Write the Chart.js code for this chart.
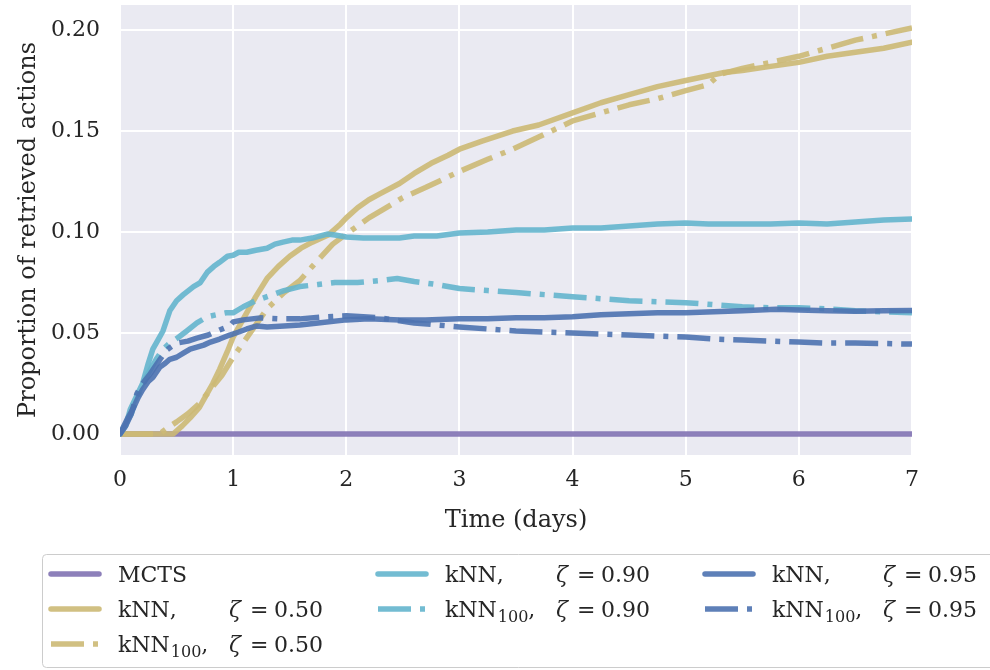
<!DOCTYPE html>
<html>
<head>
<meta charset="utf-8">
<script src="https://cdn.jsdelivr.net/npm/chart.js@4.4.0/dist/chart.umd.min.js"></script>
<style>
  body { margin: 0; background: #ffffff; }
  #wrap { width: 990px; height: 670px; }
</style>
</head>
<body>
<div id="wrap"><canvas id="myChart" width="990" height="670"></canvas></div>
<script>
// axis ticks
var xTicks = [0, 1, 2, 3, 4, 5, 6, 7];
var yTicks = [0, 0.05, 0.10, 0.15, 0.20];

// MCTS
var mctsX = [0, 7];
var mctsY = [0, 0];

// kNN, zeta = 0.50
var knn50X = [0, 0.47, 0.55, 0.62, 0.7, 0.75, 0.82, 0.88, 0.95, 1.0, 1.1, 1.2, 1.3, 1.4, 1.5, 1.6, 1.7, 1.84, 1.95, 2.0, 2.1, 2.2, 2.3, 2.47, 2.6, 2.75, 2.9, 3.0, 3.2, 3.47, 3.7, 4.0, 4.25, 4.5, 4.75, 5.0, 5.34, 5.5, 5.75, 6.0, 6.25, 6.5, 6.75, 7.0];
var knn50Y = [0, 0, 0.004, 0.008, 0.013, 0.018, 0.025, 0.032, 0.041, 0.048, 0.058, 0.068, 0.077, 0.083, 0.088, 0.092, 0.095, 0.0985, 0.104, 0.107, 0.112, 0.116, 0.119, 0.124, 0.129, 0.134, 0.138, 0.141, 0.145, 0.150, 0.153, 0.159, 0.164, 0.168, 0.172, 0.175, 0.179, 0.180, 0.182, 0.184, 0.187, 0.189, 0.191, 0.194];

// kNN100, zeta = 0.50
var knn100_50X = [0, 0.35, 0.42, 0.5, 0.6, 0.7, 0.8, 0.9, 1.0, 1.1, 1.2, 1.3, 1.45, 1.59, 1.7, 1.88, 2.0, 2.2, 2.35, 2.5, 2.7, 3.0, 3.25, 3.47, 3.7, 4.0, 4.25, 4.5, 4.75, 5.0, 5.2, 5.3, 5.5, 5.75, 6.0, 6.25, 6.5, 6.75, 7.0];
var knn100_50Y = [0, 0, 0.003, 0.006, 0.010, 0.015, 0.022, 0.029, 0.038, 0.046, 0.054, 0.062, 0.070, 0.076, 0.083, 0.094, 0.099, 0.107, 0.112, 0.117, 0.122, 0.130, 0.136, 0.141, 0.147, 0.155, 0.159, 0.163, 0.166, 0.170, 0.173, 0.178, 0.181, 0.184, 0.187, 0.191, 0.195, 0.198, 0.201];

// kNN, zeta = 0.90
var knn90X = [0, 0.05, 0.09, 0.14, 0.2, 0.25, 0.29, 0.33, 0.38, 0.44, 0.5, 0.56, 0.65, 0.71, 0.77, 0.83, 0.88, 0.95, 1.0, 1.05, 1.12, 1.2, 1.3, 1.37, 1.44, 1.52, 1.59, 1.7, 1.83, 1.9, 2.0, 2.15, 2.3, 2.47, 2.6, 2.8, 3.0, 3.25, 3.5, 3.75, 4.0, 4.25, 4.5, 4.75, 5.0, 5.2, 5.5, 5.75, 6.0, 6.25, 6.5, 6.75, 7.0];
var knn90Y = [0, 0.004, 0.012, 0.018, 0.025, 0.035, 0.042, 0.046, 0.051, 0.061, 0.066, 0.069, 0.073, 0.075, 0.080, 0.083, 0.085, 0.088, 0.0885, 0.090, 0.090, 0.091, 0.092, 0.094, 0.095, 0.096, 0.096, 0.097, 0.099, 0.0985, 0.0975, 0.097, 0.097, 0.097, 0.098, 0.098, 0.0995, 0.100, 0.101, 0.101, 0.102, 0.102, 0.103, 0.104, 0.1045, 0.104, 0.104, 0.104, 0.1045, 0.104, 0.105, 0.106, 0.1065];

// kNN100, zeta = 0.90
var knn100_90X = [0, 0.05, 0.1, 0.15, 0.2, 0.25, 0.32, 0.38, 0.44, 0.52, 0.59, 0.68, 0.77, 0.85, 0.94, 1.0, 1.09, 1.2, 1.3, 1.45, 1.59, 1.75, 1.9, 2.1, 2.3, 2.45, 2.6, 2.8, 3.0, 3.25, 3.5, 3.75, 4.0, 4.25, 4.5, 4.75, 5.0, 5.25, 5.5, 5.75, 6.0, 6.25, 6.5, 6.75, 7.0];
var knn100_90Y = [0, 0.005, 0.010, 0.018, 0.024, 0.030, 0.037, 0.042, 0.045, 0.048, 0.051, 0.055, 0.058, 0.059, 0.060, 0.060, 0.063, 0.066, 0.068, 0.071, 0.073, 0.074, 0.075, 0.075, 0.076, 0.077, 0.0755, 0.074, 0.072, 0.071, 0.070, 0.069, 0.068, 0.067, 0.066, 0.0655, 0.065, 0.064, 0.063, 0.0625, 0.0625, 0.062, 0.061, 0.0605, 0.060];

// kNN, zeta = 0.95
var knn95X = [0, 0.03, 0.07, 0.12, 0.16, 0.2, 0.25, 0.29, 0.35, 0.4, 0.44, 0.5, 0.56, 0.62, 0.68, 0.74, 0.8, 0.88, 0.97, 1.05, 1.12, 1.21, 1.3, 1.45, 1.59, 1.75, 2.0, 2.2, 2.47, 2.7, 3.0, 3.25, 3.5, 3.75, 4.0, 4.25, 4.5, 4.75, 5.0, 5.25, 5.5, 5.8, 6.0, 6.25, 6.5, 6.75, 7.0];
var knn95Y = [0, 0.0035, 0.008, 0.013, 0.018, 0.022, 0.026, 0.028, 0.033, 0.035, 0.037, 0.038, 0.040, 0.042, 0.043, 0.044, 0.0455, 0.047, 0.049, 0.0505, 0.052, 0.0535, 0.053, 0.0535, 0.054, 0.055, 0.0565, 0.057, 0.0565, 0.0565, 0.057, 0.057, 0.0575, 0.0575, 0.058, 0.059, 0.0595, 0.060, 0.060, 0.0605, 0.061, 0.0618, 0.0614, 0.061, 0.0608, 0.061, 0.0612];

// kNN100, zeta = 0.95
var knn100_95X = [0, 0.05, 0.1, 0.15, 0.2, 0.27, 0.33, 0.41, 0.5, 0.6, 0.68, 0.78, 0.88, 0.97, 1.0, 1.09, 1.24, 1.4, 1.59, 1.8, 2.0, 2.15, 2.3, 2.6, 2.8, 3.0, 3.25, 3.5, 3.75, 4.0, 4.25, 4.5, 4.75, 5.0, 5.25, 5.5, 5.75, 6.0, 6.25, 6.5, 6.75, 7.0];
var knn100_95Y = [0, 0.004, 0.010, 0.020, 0.025, 0.030, 0.035, 0.0415, 0.045, 0.046, 0.0475, 0.049, 0.0515, 0.0535, 0.0555, 0.0565, 0.0575, 0.057, 0.057, 0.058, 0.0585, 0.058, 0.0575, 0.055, 0.054, 0.053, 0.052, 0.051, 0.0505, 0.050, 0.0495, 0.049, 0.0485, 0.048, 0.047, 0.0465, 0.046, 0.0455, 0.045, 0.045, 0.0448, 0.0445];

// legend text
var legNames = ['MCTS', 'kNN', 'kNN', 'kNN', 'kNN', 'kNN', 'kNN'];
var legSubs = ['', '', '100', '', '100', '', '100'];
var legZetas = ['', '0.50', '0.50', '0.90', '0.90', '0.95', '0.95'];

var SERIF = "'DejaVu Serif', serif";
var purple = 'rgba(129,114,178,0.9)';
var gold = 'rgba(204,185,116,0.9)';
var cyan = 'rgba(100,181,205,0.9)';
var blue = 'rgba(76,114,176,0.9)';
var dashDot = [33, 9, 5, 9];

function pts(xs, ys) {
  return xs.map(function (x, i) { return { x: x, y: ys[i] }; });
}

function line(xs, ys, color, dashed, order) {
  return {
    data: pts(xs, ys),
    borderColor: color,
    borderWidth: 5.5,
    borderDash: dashed ? dashDot : [],
    borderCapStyle: dashed ? 'butt' : 'round',
    borderJoinStyle: 'round',
    pointRadius: 0,
    tension: 0,
    fill: false,
    order: order
  };
}

var datasets = [
  line(mctsX, mctsY, purple, false, 7),
  line(knn50X, knn50Y, gold, false, 6),
  line(knn100_50X, knn100_50Y, gold, true, 5),
  line(knn90X, knn90Y, cyan, false, 4),
  line(knn100_90X, knn100_90Y, cyan, true, 3),
  line(knn95X, knn95Y, blue, false, 2),
  line(knn100_95X, knn100_95Y, blue, true, 1)
];

// plot background
var bgPlugin = {
  id: 'bg',
  beforeDraw: function (chart) {
    var a = chart.chartArea, ctx = chart.ctx;
    ctx.save();
    ctx.fillStyle = '#EAEAF2';
    ctx.fillRect(a.left, a.top, a.right - a.left, a.bottom - a.top);
    ctx.restore();
  }
};

// legend drawn by hand (3 columns, subscripts)
var legendPlugin = {
  id: 'mplLegend',
  afterDraw: function (chart) {
    var ctx = chart.ctx;
    ctx.save();
    ctx.beginPath();
    ctx.roundRect(42.5, 554.5, 960, 113, 4);
    ctx.fillStyle = 'rgba(255,255,255,0.8)';
    ctx.fill();
    ctx.strokeStyle = '#cccccc';
    ctx.lineWidth = 1;
    ctx.stroke();

    var cols = [0, 0, 0, 1, 1, 2, 2];
    var rows = [0, 1, 2, 0, 1, 0, 1];
    for (var i = 0; i < datasets.length; i++) {
      var ds = datasets[i];
      var hx = 51 + cols[i] * 327;
      var hy = 574 + rows[i] * 35;
      ctx.beginPath();
      ctx.setLineDash(ds.borderDash);
      ctx.lineCap = ds.borderCapStyle;
      ctx.strokeStyle = ds.borderColor;
      ctx.lineWidth = 5.5;
      ctx.moveTo(hx, hy);
      ctx.lineTo(hx + 48, hy);
      ctx.stroke();
      ctx.setLineDash([]);

      var tx = hx + 67;
      ctx.fillStyle = '#262626';
      ctx.textBaseline = 'alphabetic';
      ctx.font = '22px ' + SERIF;
      var base = hy + 8;
      var t = legNames[i];
      ctx.fillText(t, tx, base);
      var w = ctx.measureText(t).width;
      if (legZetas[i]) {
        var cx = tx + w;
        if (legSubs[i]) {
          ctx.font = '16px ' + SERIF;
          ctx.fillText(legSubs[i], cx + 1, base + 5);
          cx += 1 + ctx.measureText(legSubs[i]).width;
          ctx.font = '22px ' + SERIF;
        }
        ctx.fillText(',', cx, base);
        var zx = tx + 111;
        ctx.font = 'italic 22px ' + SERIF;
        ctx.fillText('\u03b6', zx, base);
        ctx.font = '22px ' + SERIF;
        ctx.fillText('=', zx + 21, base);
        ctx.fillText(legZetas[i], zx + 45, base);
      }
    }
    ctx.restore();
  }
};

var ctx = document.getElementById('myChart').getContext('2d');
var myChart = new Chart(ctx, {
  type: 'line',
  data: { datasets: datasets },
  plugins: [bgPlugin, legendPlugin],
  options: {
    responsive: false,
    animation: false,
    layout: { padding: { left: 0, right: 78, top: 5, bottom: 135 } },
    plugins: { legend: { display: false }, tooltip: { enabled: false } },
    scales: {
      x: {
        type: 'linear',
        min: 0,
        max: 7,
        afterBuildTicks: function (s) { s.ticks = xTicks.map(function (v) { return { value: v }; }); },
        afterFit: function (s) { s.height = 80; s.paddingLeft = 0; s.paddingRight = 0; },
        grid: { color: '#ffffff', lineWidth: 2, drawTicks: false },
        border: { display: false },
        ticks: { padding: 12, color: '#262626', font: { family: SERIF, size: 22 }, maxRotation: 0 },
        title: { display: true, text: 'Time (days)', color: '#262626', padding: { top: 6, bottom: 0 }, font: { family: SERIF, size: 24 } }
      },
      y: {
        type: 'linear',
        min: -0.0104,
        max: 0.2124,
        afterBuildTicks: function (s) { s.ticks = yTicks.map(function (v) { return { value: v }; }); },
        afterFit: function (s) { s.width = 120; s.paddingTop = 0; s.paddingBottom = 0; },
        grid: { color: '#ffffff', lineWidth: 2, drawTicks: false },
        border: { display: false },
        ticks: {
          padding: 20, color: '#262626', font: { family: SERIF, size: 22 },
          callback: function (v) { return Number(v).toFixed(2); }
        },
        title: { display: true, text: 'Proportion of retrieved actions', color: '#262626', padding: { top: 14, bottom: 0 }, font: { family: SERIF, size: 24 } }
      }
    }
  }
});
</script>
</body>
</html>
